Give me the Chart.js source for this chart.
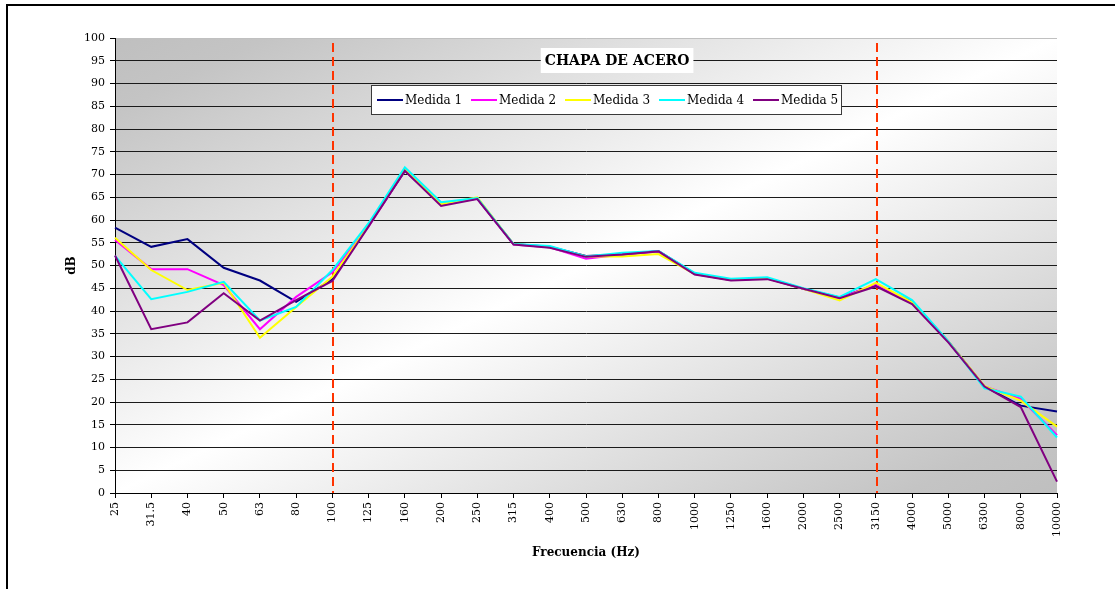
<!DOCTYPE html>
<html>
<head>
<meta charset="utf-8">
<script src="https://cdn.jsdelivr.net/npm/chart.js@4/dist/chart.umd.min.js"></script>
<style>
  html, body { margin: 0; padding: 0; background: #fff; overflow: hidden; }
  #wrap { position: absolute; left: 0; top: 0; width: 1115px; height: 589px; }
  #frame { position: absolute; left: 6px; top: 4px; width: 1130px; height: 620px; border: 2px solid #000; box-sizing: border-box; }
  canvas { position: absolute; left: 0; top: 0; }
</style>
</head>
<body>
<div id="wrap">
  <div id="frame"></div>
  <canvas id="c" width="1115" height="589"></canvas>
</div>
<script>
const categories = ['25','31.5','40','50','63','80','100','125','160','200','250','315','400','500','630','800','1000','1250','1600','2000','2500','3150','4000','5000','6300','8000','10000'];
const medida1 = [58.3, 54.1, 55.8, 49.5, 46.7, 42.0, 47.0, 58.8, 70.8, 63.5, 64.7, 54.7, 54.1, 52.1, 52.4, 53.2, 48.2, 46.8, 47.2, 44.9, 43.0, 45.7, 42.0, 33.3, 23.4, 19.2, 17.9];
const medida2 = [55.6, 49.2, 49.2, 45.7, 36.0, 43.1, 48.5, 58.6, 70.9, 63.4, 64.7, 54.6, 54.0, 51.5, 52.4, 53.1, 48.1, 46.8, 47.2, 44.9, 42.8, 45.9, 41.8, 33.2, 23.4, 20.7, 12.7];
const medida3 = [56.1, 49.0, 44.6, 46.2, 34.1, 40.9, 47.5, 58.8, 71.0, 63.5, 65.0, 54.7, 54.0, 52.0, 52.0, 52.5, 48.1, 46.8, 47.2, 44.9, 42.3, 46.2, 41.9, 33.3, 23.5, 20.3, 14.6];
const medida4 = [52.1, 42.6, 44.2, 46.4, 37.9, 40.9, 49.0, 59.3, 71.6, 63.9, 64.8, 54.7, 54.3, 52.0, 52.8, 53.2, 48.4, 47.1, 47.4, 45.0, 43.1, 47.0, 42.4, 33.3, 23.0, 21.2, 12.2];
const medida5 = [52.2, 36.0, 37.5, 43.9, 37.9, 42.4, 46.6, 58.6, 70.8, 63.1, 64.6, 54.6, 53.9, 51.9, 52.4, 53.1, 48.0, 46.7, 47.0, 44.9, 42.8, 45.4, 41.5, 33.1, 23.4, 18.9, 2.5];
const seriesLabels = ['Medida 1','Medida 2','Medida 3','Medida 4','Medida 5'];
const seriesColors = ['#000080','#ff00ff','#ffff00','#00ffff','#800080'];
const markerCategories = ['100','3150'];
const chartTitle = 'CHAPA DE ACERO';
const xTitle = 'Frecuencia (Hz)';
const yTitle = 'dB';

const FONT = "'DejaVu Serif', 'Liberation Serif', serif";
const allSeries = [medida1, medida2, medida3, medida4, medida5];

const bgPlugin = {
  id: 'bgGrad',
  beforeDraw(chart) {
    const { ctx, chartArea: a } = chart;
    ctx.save();
    ctx.translate(a.left, a.top);
    ctx.scale(a.right - a.left, a.bottom - a.top);
    const g = ctx.createLinearGradient(0, 0, 1, 1);
    g.addColorStop(0, '#bfbfbf');
    g.addColorStop(0.08, '#c4c4c4');
    g.addColorStop(0.5, '#ffffff');
    g.addColorStop(0.92, '#c4c4c4');
    g.addColorStop(1, '#bfbfbf');
    ctx.fillStyle = g;
    ctx.fillRect(0, 0, 1, 1);
    ctx.restore();
  }
};

const markerPlugin = {
  id: 'markers',
  beforeDatasetsDraw(chart) {
    const { ctx, chartArea: a, scales } = chart;
    ctx.save();
    ctx.strokeStyle = '#ff3300';
    ctx.lineWidth = 2;
    ctx.setLineDash([9, 5]);
    ctx.lineDashOffset = -5;
    markerCategories.forEach(c => {
      const x = Math.round(scales.x.getPixelForValue(categories.indexOf(c))) + 1;
      ctx.beginPath();
      ctx.moveTo(x, a.top);
      ctx.lineTo(x, a.bottom);
      ctx.stroke();
    });
    ctx.restore();
  }
};

const overlayPlugin = {
  id: 'overlay',
  afterDraw(chart) {
    const { ctx, chartArea: a } = chart;
    const w = a.right - a.left;
    ctx.save();
    // Title box
    ctx.font = 'bold 14px ' + FONT;
    const tw = ctx.measureText(chartTitle).width;
    const tcx = a.left + w * 0.533;
    const tcy = a.top + 22;
    ctx.fillStyle = '#ffffff';
    ctx.fillRect(tcx - tw / 2 - 4, tcy - 12, tw + 8, 25);
    ctx.fillStyle = '#000';
    ctx.textAlign = 'center';
    ctx.textBaseline = 'middle';
    ctx.fillText(chartTitle, tcx, tcy + 1);

    // Legend box
    const lx = a.left + 256, ly = a.top + 47, lw = 470, lh = 29;
    ctx.fillStyle = '#ffffff';
    ctx.fillRect(lx, ly, lw, lh);
    ctx.strokeStyle = '#3a3a3a';
    ctx.lineWidth = 1;
    ctx.strokeRect(lx + 0.5, ly + 0.5, lw, lh);
    ctx.font = '12px ' + FONT;
    ctx.textAlign = 'left';
    ctx.textBaseline = 'middle';
    seriesLabels.forEach((lab, i) => {
      const sx = lx + 6 + i * 94;
      const cy = ly + lh / 2 + 0.5;
      ctx.strokeStyle = seriesColors[i];
      ctx.lineWidth = 2;
      ctx.beginPath();
      ctx.moveTo(sx, cy);
      ctx.lineTo(sx + 26, cy);
      ctx.stroke();
      ctx.fillStyle = '#000';
      ctx.fillText(lab, sx + 28, cy + 1);
    });

    // Axis titles
    ctx.font = 'bold 12px ' + FONT;
    ctx.textAlign = 'center';
    ctx.textBaseline = 'middle';
    ctx.fillText(xTitle, (a.left + a.right) / 2, 553);
    ctx.translate(72, (a.top + a.bottom) / 2);
    ctx.rotate(-Math.PI / 2);
    ctx.fillText(yTitle, 0, 0);
    ctx.restore();
  }
};

const datasets = allSeries.map((data, i) => ({
  label: seriesLabels[i],
  data: data,
  borderColor: seriesColors[i],
  backgroundColor: seriesColors[i],
  borderWidth: 2,
  pointRadius: 0,
  tension: 0,
  fill: false,
  order: allSeries.length - 1 - i
}));

new Chart(document.getElementById('c'), {
  type: 'line',
  data: { labels: categories, datasets: datasets },
  options: {
    responsive: false,
    animation: false,
    devicePixelRatio: 1,
    layout: { padding: { left: 0, top: 38, right: 58, bottom: 0 } },
    plugins: { legend: { display: false }, title: { display: false }, tooltip: { enabled: false } },
    scales: {
      x: {
        type: 'category',
        offset: false,
        afterFit(scale) { scale.height = 96; },
        grid: { display: true, drawOnChartArea: false, drawTicks: true, tickLength: 5, tickColor: '#000', offset: false },
        border: { display: true, color: '#000', width: 1 },
        ticks: {
          autoSkip: false, maxRotation: 90, minRotation: 90, padding: 4,
          color: '#000', font: { family: FONT, size: 11 }
        }
      },
      y: {
        min: 0, max: 100,
        afterFit(scale) { scale.width = 115; },
        grid: {
          drawTicks: true, tickLength: 5, tickColor: '#000',
          color: (c) => c.tick && c.tick.value === 100 ? '#c0c0c0' : (c.tick && c.tick.value === 0 ? 'rgba(0,0,0,0)' : '#1a1a1a'),
          lineWidth: 1
        },
        border: { display: true, color: '#000', width: 1 },
        ticks: { stepSize: 5, padding: 5, color: '#000', font: { family: FONT, size: 11 } }
      }
    }
  },
  plugins: [bgPlugin, markerPlugin, overlayPlugin]
});
</script>
</body>
</html>
